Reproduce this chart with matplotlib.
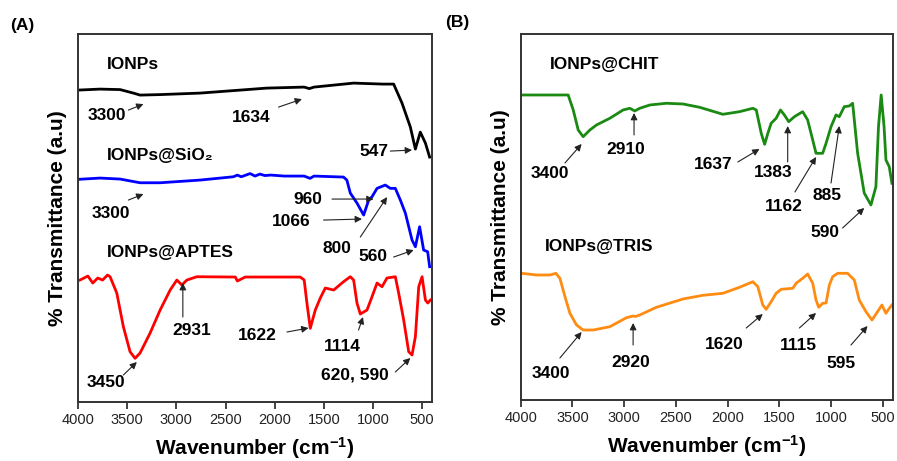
import matplotlib.pyplot as plt

plt.rcParams['font.family'] = ['Liberation Sans', 'DejaVu Sans']

# ---- panel A data (wavenumber, transmittance a.u.)
wn_ionps = [4000, 3776, 3572, 3437, 3369, 3165, 2758, 2079, 1700, 1648, 1600, 1197, 900,
            790, 705, 620, 569, 519, 467, 424]
t_ionps = [312, 313, 312.5, 309, 307, 307.5, 309, 314, 315, 313.5, 315, 319, 318,
           318, 299, 275, 253, 270, 259, 245]

wn_sio2 = [4000, 3776, 3572, 3369, 3165, 2758, 2420, 2380, 2340, 2250, 2200, 2150, 2100,
           2040, 1900, 1700, 1640, 1600, 1300, 1266, 1231, 1163, 1095, 1044, 1010, 959,
           875, 824, 773, 722, 671, 603, 569, 526, 485, 444, 424]
t_sio2 = [222.7, 224, 223, 219.3, 219.3, 222, 225.3, 227, 225.3, 228.5, 226, 228, 226.5,
          227, 226, 226, 223.7, 226, 225, 222, 209, 199, 187, 202, 205.3, 213.7,
          217, 213.7, 213.7, 202, 189, 162, 155.3, 175.3, 152, 150.3, 135.3]

wn_aptes = [3980, 3900, 3850, 3800, 3750, 3700, 3674, 3606, 3539, 3471, 3420, 3369, 3267,
            3165, 3063, 2995, 2944, 2893, 2792, 2400, 2380, 2300, 1740, 1700, 1672, 1638,
            1587, 1536, 1485, 1400, 1300, 1231, 1197, 1163, 1129, 1061, 1010, 959, 908,
            858, 773, 739, 688, 637, 603, 569, 535, 501, 467, 443, 416]
t_aptes = [122, 126, 119, 124, 122, 127, 125.3, 109, 75.3, 50.3, 43.7, 49, 69,
           92, 112, 122, 117, 122, 125.3, 125, 121, 125, 125, 122, 99, 73.7,
           92, 104, 114, 112, 120.3, 125.3, 122, 99, 88, 92, 105.3, 119, 115.3,
           124, 125.3, 109, 82, 50.3, 47, 65.3, 115.3, 125.3, 102, 99, 102]

# ---- panel B data
wn_chit = [4000, 3541, 3492, 3444, 3396, 3331, 3267, 3138, 3010, 2945, 2897, 2849, 2751,
           2591, 2431, 2270, 2045, 1884, 1755, 1722, 1674, 1641, 1609, 1578, 1530, 1488,
           1450, 1408, 1353, 1273, 1225, 1176, 1144, 1080, 1047, 999, 951, 919, 871,
           822, 790, 742, 678, 613, 565, 540, 514, 486, 468, 436, 410]
t_chit = [305, 305, 290, 270, 263.3, 270, 275, 281.7, 290, 291.7, 289, 291.7, 295,
          296.7, 296, 292.7, 285.7, 288.3, 291.7, 290, 266.7, 255.7, 267, 276.7, 281.7, 290,
          285, 278.3, 283.3, 288.3, 280, 260, 246.7, 246.7, 256.7, 273.3, 285, 283.3, 293.3,
          294, 296.7, 247, 207, 195, 213.3, 273.3, 305, 273.3, 240, 233.3, 216.7]

wn_tris = [3990, 3846, 3717, 3660, 3621, 3572, 3524, 3460, 3396, 3299, 3138, 2977, 2913,
           2890, 2849, 2688, 2431, 2238, 2045, 1884, 1755, 1707, 1659, 1626, 1578, 1530,
           1481, 1369, 1337, 1273, 1225, 1176, 1144, 1118, 1080, 1047, 1015, 983, 935,
           839, 774, 726, 661, 603, 549, 507, 468, 436, 410]
t_tris = [126.7, 125, 125, 126.7, 121.7, 103.3, 86.7, 75, 70, 70, 73.3, 82.3, 84,
          83.5, 85, 92.7, 101, 104.7, 106.7, 112.7, 118.3, 113.3, 95, 90.7, 98.3, 106.7,
          110.7, 111.7, 116.7, 121.7, 126, 116.7, 100, 92.7, 96.7, 97, 115, 123.3, 126.7,
          126.7, 120, 100, 88.3, 80, 88.3, 95, 86.7, 91.7, 95]

xticks = [4000, 3500, 3000, 2500, 2000, 1500, 1000, 500]

# peak labels: (text, text pos, arrow start, arrow end)
peaks_a = [
    ('3300', (3705, 287), (3488, 292), (3335, 298)),
    ('1634', (2239, 285), (1961, 295), (1723, 303)),
    ('547', (987, 251), (824, 251), (603, 252)),
    ('3300', (3664, 189), (3488, 202), (3335, 208)),
    ('960', (1659, 203), (1417, 203), (994, 203)),
    ('1066', (1832, 181), (1503, 182), (1112, 183)),
    ('800', (1363, 154), (1129, 165), (857, 205)),
    ('560', (997, 146), (790, 145), (586, 152)),
    ('2931', (2839, 72), (2934, 85), (2934, 119)),
    ('3450', (3715, 19), (3539, 27), (3402, 40)),
    ('1622', (2178, 67), (1875, 70), (1656, 74)),
    ('1114', (1312, 56), (1147, 72), (1102, 85)),
    ('620, 590', (1180, 27), (773, 30), (620, 44)),
]
peaks_b = [
    ('3400', (3717, 226), (3572, 237), (3411, 256)),
    ('2910', (2984, 250), (2904, 265), (2904, 287)),
    ('1637', (2135, 235), (1900, 238), (1691, 251)),
    ('1383', (1555, 227), (1418, 238), (1418, 274)),
    ('1162', (1459, 193), (1348, 208), (1144, 243)),
    ('885', (1035, 204), (999, 217), (919, 274)),
    ('590', (1054, 167), (887, 172), (678, 192)),
    ('3400', (3707, 27), (3621, 42), (3411, 68)),
    ('2920', (2936, 38), (2913, 55), (2913, 77)),
    ('1620', (2029, 56), (1819, 72), (1659, 86)),
    ('1115', (1314, 55), (1305, 72), (1144, 87)),
    ('595', (899, 37), (806, 55), (646, 74)),
]

fig = plt.figure(figsize=(8.97, 4.61), dpi=100)
axA = fig.add_axes([0.087, 0.128, 0.3946, 0.798])
axB = fig.add_axes([0.5805, 0.1323, 0.415, 0.794])


def style_ax(ax, ymax):
    ax.set_xlim(4000, 400)
    ax.set_ylim(0, ymax)
    ax.set_xticks(xticks)
    ax.set_yticks([])
    ax.tick_params(axis='x', direction='out', length=5, width=1.2, labelsize=10.5,
                   colors='#222222', pad=3)
    for s in ax.spines.values():
        s.set_linewidth(1.4)
        s.set_color('#333333')
    ax.set_xlabel('Wavenumber $\\mathregular{(cm^{-1})}$', fontsize=15, fontweight='bold', labelpad=6)
    ax.set_ylabel('% Transmittance (a.u)', fontsize=15, fontweight='bold', labelpad=8)


def add_peaks(ax, peaks):
    for txt, tpos, a0, a1 in peaks:
        ax.text(tpos[0], tpos[1], txt, ha='center', va='center', fontsize=12.5, fontweight='bold')
        ax.annotate('', xy=a1, xytext=a0,
                    arrowprops=dict(arrowstyle='-|>', color='#222222', lw=0.8,
                                    mutation_scale=10, shrinkA=0, shrinkB=0))


# Panel A
axA.plot(wn_ionps, t_ionps, color='black', lw=2)
axA.plot(wn_sio2, t_sio2, color='#0000ff', lw=2)
axA.plot(wn_aptes, t_aptes, color='#ff0000', lw=2)
axA.text(3705, 338, 'IONPs', fontsize=12.5, fontweight='bold', va='center')
axA.text(3705, 247, 'IONPs@SiO₂', fontsize=12.5, fontweight='bold', va='center')
axA.text(3705, 150, 'IONPs@APTES', fontsize=12.5, fontweight='bold', va='center')
add_peaks(axA, peaks_a)
style_ax(axA, 368)

# Panel B
axB.plot(wn_chit, t_chit, color='#1a8a12', lw=2)
axB.plot(wn_tris, t_tris, color='#ff8c12', lw=2)
axB.text(3717, 335, 'IONPs@CHIT', fontsize=12.5, fontweight='bold', va='center')
axB.text(3765, 153, 'IONPs@TRIS', fontsize=12.5, fontweight='bold', va='center')
add_peaks(axB, peaks_b)
style_ax(axB, 366)

fig.text(0.011, 0.945, '(A)', fontsize=12.5, fontweight='bold', va='center')
fig.text(0.496, 0.952, '(B)', fontsize=12.5, fontweight='bold', va='center')

fig.savefig('out.png', dpi=100)
